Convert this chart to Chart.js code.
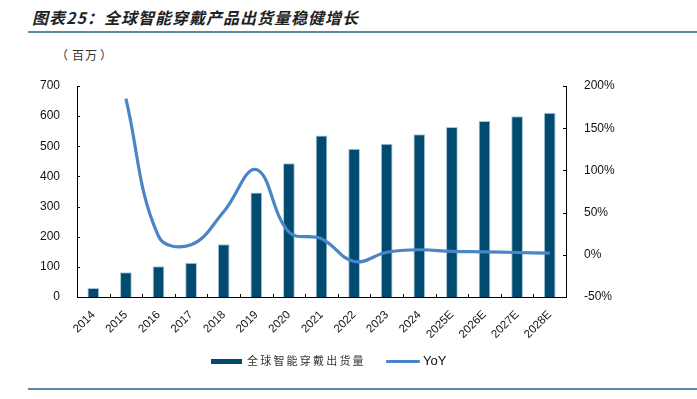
<!DOCTYPE html>
<html lang="zh-CN">
<head>
<meta charset="utf-8">
<script src="https://cdn.jsdelivr.net/npm/chart.js@4/dist/chart.umd.min.js"></script>
<style>
  html,body{margin:0;padding:0;background:#fff;}
  #wrap{position:relative;width:697px;height:399px;overflow:hidden;font-family:"Liberation Sans","Noto Sans CJK SC",sans-serif;}
  #c{position:absolute;left:0;top:0;}
  .title{position:absolute;left:32px;top:5px;font-family:"Noto Sans CJK SC",sans-serif;font-weight:bold;font-style:italic;font-size:16px;letter-spacing:1px;color:#222;white-space:nowrap;}
  .hline{position:absolute;left:28px;width:669px;height:2px;background:#5b8aa2;}
  .unit{position:absolute;left:56px;top:46px;font-family:"Noto Sans CJK SC",sans-serif;font-size:12px;color:#333;white-space:nowrap;}
  .leg{position:absolute;top:351px;height:20px;font-size:13px;color:#111;white-space:nowrap;}
  .sw{position:absolute;}
</style>
</head>
<body>
<div id="wrap">
  <div class="title">图表25：全球智能穿戴产品出货量稳健增长</div>
  <div class="hline" style="top:31px"></div>
  <div class="unit"><span style="margin-right:4px;">（</span><span style="letter-spacing:1px;">百万</span><span style="margin-left:2px;">）</span></div>
  <canvas id="c" width="697" height="399"></canvas>
  <div class="sw" style="left:211px;top:359px;width:31px;height:5px;background:#004b6f;"></div>
  <div class="leg" style="left:247px;top:352px;font-family:'Noto Sans CJK SC',sans-serif;font-size:11px;letter-spacing:2.2px;color:#333;">全球智能穿戴出货量</div>
  <div class="sw" style="left:386px;top:360px;width:34px;height:3px;background:#4a86c5;border-radius:1px;"></div>
  <div class="leg" style="left:423px;top:353px;">YoY</div>
  <div class="hline" style="top:388px"></div>
</div>
<script>
const categories = ["2014","2015","2016","2017","2018","2019","2020","2021","2022","2023","2024","2025E","2026E","2027E","2028E"];
const shipments = [30, 82, 102, 114, 175, 347, 444, 536, 492, 508, 540, 564, 584, 600, 611];
const yoy = [null, 185, 22, 12, 51, 101, 27, 19, -8, 3, 6, 4, 3.5, 2.7, 2];
const leftTicks = [0,100,200,300,400,500,600,700];
const rightTicks = [-50,0,50,100,150,200];

const innerTicks = {
  id:'innerTicks',
  afterDraw(chart){
    const ctx = chart.ctx, a = chart.chartArea;
    const y = chart.scales.y, y1 = chart.scales.y1, x = chart.scales.x;
    ctx.save();
    ctx.strokeStyle = '#000'; ctx.lineWidth = 1;
    ctx.beginPath();
    leftTicks.forEach(v=>{const p=Math.round(y.getPixelForValue(v))+0.5; ctx.moveTo(a.left,p); ctx.lineTo(a.left+3,p);});
    rightTicks.forEach(v=>{const p=Math.round(y1.getPixelForValue(v))+0.5; ctx.moveTo(a.right,p); ctx.lineTo(a.right-3,p);});
    for(let i=0;i<=categories.length;i++){
      const p = Math.round(x.getPixelForValue(i-0.5))+0.5;
      ctx.moveTo(p,a.bottom); ctx.lineTo(p,a.bottom-3);
    }
    ctx.stroke();
    ctx.restore();
  }
};

new Chart(document.getElementById('c'), {
  data:{
    labels: categories,
    datasets:[
      {type:'line', label:'YoY', data:yoy, yAxisID:'y1', borderColor:'#4a86c5', borderWidth:3.2, pointRadius:0, tension:0.4, order:0, fill:false},
      {type:'bar', label:'全球智能穿戴出货量', data:shipments, yAxisID:'y', backgroundColor:'#004b6f', borderColor:'#a9c6d8', borderWidth:{left:1,right:1,top:1,bottom:0}, barPercentage:0.36, categoryPercentage:1, order:1}
    ]
  },
  options:{
    responsive:false, animation:false, devicePixelRatio:1,
    layout:{padding:{top:86,left:0,right:0,bottom:0}},
    plugins:{legend:{display:false}, tooltip:{enabled:false}},
    scales:{
      x:{
        grid:{display:false}, border:{display:true,color:'#000',width:1},
        ticks:{color:'#111', font:{family:'Liberation Sans', size:11.5}, maxRotation:45, minRotation:45, padding:3, autoSkip:false},
        afterFit(s){s.height=102;}
      },
      y:{
        position:'left', min:0, max:700,
        grid:{display:false}, border:{display:true,color:'#000',width:1},
        ticks:{stepSize:100, color:'#111', font:{family:'Liberation Sans', size:12}, padding:9},
        afterFit(s){s.width=77;}
      },
      y1:{
        position:'right', min:-50, max:200,
        grid:{display:false}, border:{display:true,color:'#000',width:1},
        ticks:{stepSize:50, color:'#111', font:{family:'Liberation Sans', size:12}, padding:10, callback:v=>v+'%'},
        afterFit(s){s.width=131;}
      }
    }
  },
  plugins:[innerTicks]
});
</script>
</body>
</html>
